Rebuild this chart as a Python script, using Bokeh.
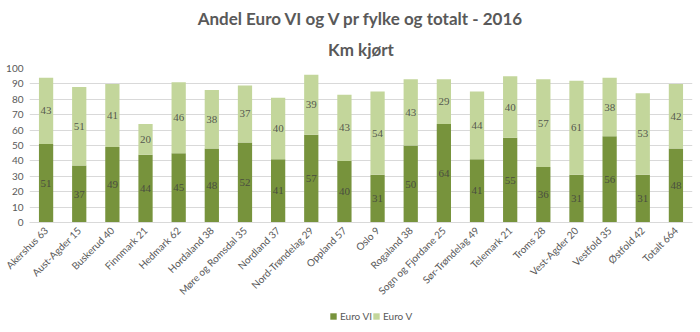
import math
from bokeh.plotting import figure
from bokeh.layouts import column
from bokeh.models import ColumnDataSource, LabelSet, Legend, LegendItem, Title, Range1d
from bokeh.embed import file_html
from bokeh.resources import INLINE

categories = ["Akershus 63", "Aust-Agder 15", "Buskerud 40", "Finnmark 21", "Hedmark 62",
              "Hordaland 38", "Møre og Romsdal 35", "Nordland 37", "Nord-Trøndelag 29",
              "Oppland 57", "Oslo 9", "Rogaland 38", "Sogn og Fjordane 25",
              "Sør-Trøndelag 49", "Telemark 21", "Troms 28", "Vest-Agder 20",
              "Vestfold 35", "Østfold 42", "Totalt 664"]
euro_vi = [51, 37, 49, 44, 45, 48, 52, 41, 57, 40, 31, 50, 64, 41, 55, 36, 31, 56, 31, 48]
euro_v = [43, 51, 41, 20, 46, 38, 37, 40, 39, 43, 54, 43, 29, 44, 40, 57, 61, 38, 53, 42]
series_names = ["Euro VI", "Euro V"]
y_ticks = list(range(0, 101, 10))

FONT = "Lato"
TXT = "#595959"
C_VI = "#77933C"
C_V = "#C3D69B"

source = ColumnDataSource(dict(
    cat=categories,
    vi=euro_vi,
    v=euro_v,
    vi_mid=[a / 2 for a in euro_vi],
    v_mid=[a + b / 2 for a, b in zip(euro_vi, euro_v)],
    vi_txt=[str(a) for a in euro_vi],
    v_txt=[str(b) for b in euro_v],
))

p = figure(x_range=categories, y_range=(0, 100), width=700, height=306,
           output_backend="svg", toolbar_location=None,
           min_border_left=29, min_border_right=8, min_border_top=68, min_border_bottom=84)

t2 = Title(text="Km kjørt", align="center", text_font=FONT, text_font_size="17px",
           text_font_style="bold", text_color=TXT, standoff=17)
t1 = Title(text="Andel Euro VI og V pr fylke og totalt - 2016", align="center", text_font=FONT,
           text_font_size="17px", text_font_style="bold", text_color=TXT, standoff=0)
p.add_layout(t2, "above")
p.add_layout(t1, "above")

p.vbar_stack(["vi", "v"], x="cat", width=0.43, color=[C_VI, C_V], source=source,
             line_color=None)

for col, txt in (("vi_mid", "vi_txt"), ("v_mid", "v_txt")):
    ls = LabelSet(x="cat", y=col, text=txt, source=source, text_align="center",
                  text_baseline="middle", text_font=FONT, text_font_size="11px",
                  text_color="#404040", text_alpha=0.85)
    p.add_layout(ls)

p.yaxis.ticker = y_ticks
p.yaxis.axis_line_color = None
p.yaxis.major_tick_line_color = None
p.yaxis.major_tick_out = 0
p.yaxis.minor_tick_line_color = None
p.yaxis.major_label_text_font = FONT
p.yaxis.major_label_text_font_size = "10px"
p.yaxis.major_label_text_color = TXT
p.yaxis.major_label_standoff = 6

p.xaxis.axis_line_color = "#d9d9d9"
p.xaxis.major_tick_line_color = None
p.xaxis.major_tick_out = 0
p.xaxis.minor_tick_line_color = None
p.xaxis.minor_tick_out = 0
p.xaxis.major_label_orientation = math.pi / 4
p.xaxis.major_label_text_font = FONT
p.xaxis.major_label_text_font_size = "10px"
p.xaxis.major_label_text_color = TXT
p.xaxis.major_label_standoff = 6

p.xgrid.grid_line_color = None
p.ygrid.grid_line_color = "#d9d9d9"
p.outline_line_color = None

# legend strip below the chart (proxy renderers with no visible marks)
lf = figure(width=700, height=26, output_backend="svg", toolbar_location=None,
            x_axis_type=None, y_axis_type=None, min_border=0,
            x_range=Range1d(0, 1), y_range=Range1d(0, 1))
lf.outline_line_color = None
nan = float("nan")
r_vi = lf.vbar(x=[nan], top=[nan], width=0.5, color=C_VI, line_color=None)
r_v = lf.vbar(x=[nan], top=[nan], width=0.5, color=C_V, line_color=None)
legend = Legend(items=[LegendItem(label=series_names[0], renderers=[r_vi]),
                       LegendItem(label=series_names[1], renderers=[r_v])],
                orientation="horizontal", location=(300, 10),
                label_text_font=FONT, label_text_font_size="10px", label_text_color=TXT,
                label_height=10, glyph_width=8, glyph_height=8, spacing=0, padding=0,
                margin=0, border_line_color=None, background_fill_alpha=0, label_standoff=3)
lf.add_layout(legend)

layout = column(p, lf, spacing=0)
open("out.html", "w").write(file_html(layout, INLINE))
